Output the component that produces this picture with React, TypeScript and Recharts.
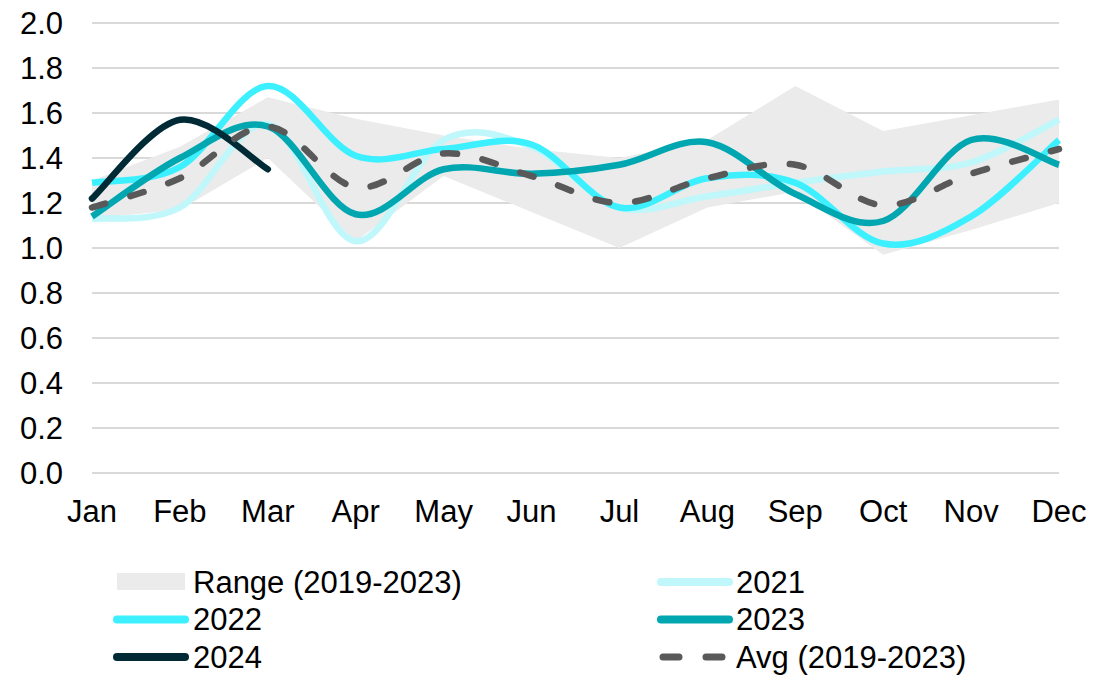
import React from 'react';
import { ComposedChart, Area, Line, XAxis, YAxis, CartesianGrid } from 'recharts';

const months = ['Jan', 'Feb', 'Mar', 'Apr', 'May', 'Jun', 'Jul', 'Aug', 'Sep', 'Oct', 'Nov', 'Dec'];
const rangeLow = [1.13, 1.17, 1.4, 1.03, 1.32, 1.16, 1.0, 1.18, 1.25, 0.97, 1.08, 1.2];
const rangeHigh = [1.3, 1.45, 1.67, 1.575, 1.5, 1.44, 1.4, 1.48, 1.72, 1.52, 1.59, 1.66];
const y2021 = [1.13, 1.18, 1.55, 1.03, 1.48, 1.45, 1.18, 1.23, 1.29, 1.34, 1.38, 1.57];
const y2022 = [1.29, 1.36, 1.72, 1.41, 1.44, 1.46, 1.18, 1.31, 1.29, 1.02, 1.14, 1.48];
const y2023 = [1.14, 1.4, 1.54, 1.15, 1.35, 1.33, 1.37, 1.47, 1.24, 1.12, 1.48, 1.37];
const y2024 = [1.22, 1.57, 1.35];
const avg = [1.18, 1.31, 1.54, 1.27, 1.42, 1.32, 1.2, 1.31, 1.37, 1.19, 1.33, 1.44];
const yTicks = [0, 0.2, 0.4, 0.6, 0.8, 1.0, 1.2, 1.4, 1.6, 1.8, 2.0];

const data = months.map((m, i) => ({
  month: m,
  range: [rangeLow[i], rangeHigh[i]],
  y2021: y2021[i],
  y2022: y2022[i],
  y2023: y2023[i],
  y2024: i < y2024.length ? y2024[i] : null,
  avg: avg[i],
}));

const FONT = '"Liberation Sans", Arial, sans-serif';

// excel-like smoothing (catmull-rom through the points)
const smooth = (ctx: any) => {
  let pts: number[][] = [];
  const flush = () => {
    if (!pts.length) return;
    ctx.moveTo(pts[0][0], pts[0][1]);
    for (let i = 0; i < pts.length - 1; i++) {
      const p0 = pts[i - 1] || pts[i];
      const p1 = pts[i];
      const p2 = pts[i + 1];
      const p3 = pts[i + 2] || p2;
      ctx.bezierCurveTo(
        p1[0] + (p2[0] - p0[0]) / 6, p1[1] + (p2[1] - p0[1]) / 6,
        p2[0] - (p3[0] - p1[0]) / 6, p2[1] - (p3[1] - p1[1]) / 6,
        p2[0], p2[1]
      );
    }
    pts = [];
  };
  return {
    areaStart() {},
    areaEnd() {},
    lineStart() { pts = []; },
    lineEnd() { flush(); },
    point(x: number, y: number) { pts.push([+x, +y]); },
  };
};

const legendRows = [
  [{ name: 'Range (2019-2023)', kind: 'area', color: '#EBEBEB' }, { name: '2021', kind: 'line', color: '#BFF7FA' }],
  [{ name: '2022', kind: 'line', color: '#3DF0FF' }, { name: '2023', kind: 'line', color: '#00A6B0' }],
  [{ name: '2024', kind: 'line', color: '#002B36' }, { name: 'Avg (2019-2023)', kind: 'dash', color: '#595959' }],
];

const LegendBox = () => (
  <svg width={1116} height={140} style={{ position: 'absolute', left: 0, top: 540 }}>
    {legendRows.map((row, r) =>
      row.map((it, c) => {
        const cy = 42 + r * 37.5;
        const x0 = c === 0 ? 113 : 657;
        const tx = c === 0 ? 193 : 736;
        return (
          <g key={it.name}>
            {it.kind === 'area' && <rect x={117} y={cy - 9} width={68} height={17} fill={it.color} />}
            {it.kind === 'line' && (
              <line x1={x0 + 4} x2={x0 + 72} y1={cy} y2={cy} stroke={it.color} strokeWidth={8} strokeLinecap="round" />
            )}
            {it.kind === 'dash' && (
              <line x1={x0 + 6} x2={x0 + 76} y1={cy} y2={cy} stroke={it.color} strokeWidth={7}
                strokeLinecap="round" strokeDasharray="16 27" />
            )}
            <text x={tx} y={cy} dy="0.35em" fontFamily={FONT} fontSize={31} fill="#000">{it.name}</text>
          </g>
        );
      })
    )}
  </svg>
);

export default function App() {
  return (
    <div style={{ position: 'absolute', left: 0, top: 0, width: 1116, height: 675, background: '#fff' }}>
      <ComposedChart width={1116} height={540} data={data} margin={{ top: 23, right: 57, left: 0, bottom: 7 }}>
        <CartesianGrid vertical={false} stroke="#D9D9D9" strokeWidth={2} />
        <XAxis
          dataKey="month"
          scale="point"
          padding={{ left: 0, right: 0 }}
          axisLine={false}
          tickLine={false}
          tickSize={0}
          tickMargin={27}
          height={60}
          interval={0}
          tick={{ fontFamily: FONT, fontSize: 31, fill: '#000' }}
        />
        <YAxis
          domain={[0, 2]}
          ticks={yTicks}
          width={92}
          axisLine={false}
          tickLine={false}
          tickSize={0}
          tickMargin={29}
          tickFormatter={(v: number) => v.toFixed(1)}
          tick={{ fontFamily: FONT, fontSize: 31, fill: '#000' }}
        />
        <Area dataKey="range" type="linear" fill="#EBEBEB" fillOpacity={1} stroke="none" isAnimationActive={false} />
        <Line dataKey="y2021" type={smooth as any} stroke="#BFF7FA" strokeWidth={6.5} dot={false} isAnimationActive={false} />
        <Line dataKey="y2022" type={smooth as any} stroke="#3DF0FF" strokeWidth={6.5} dot={false} isAnimationActive={false} />
        <Line dataKey="y2023" type={smooth as any} stroke="#00A6B0" strokeWidth={6.5} dot={false} isAnimationActive={false} />
        <Line dataKey="y2024" type={smooth as any} stroke="#002B36" strokeWidth={6.5} strokeLinecap="round" dot={false} isAnimationActive={false} />
        <Line dataKey="avg" type={smooth as any} stroke="#595959" strokeWidth={6.5} strokeLinecap="round"
          strokeDasharray="14 26" dot={false} isAnimationActive={false} />
      </ComposedChart>
      <LegendBox />
    </div>
  );
}
